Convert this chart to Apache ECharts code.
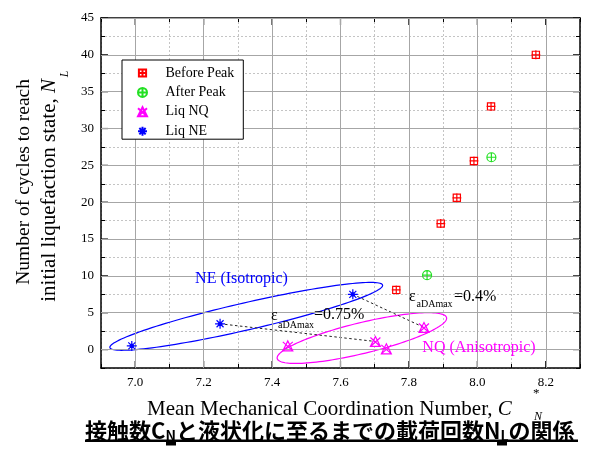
<!DOCTYPE html>
<html><head><meta charset="utf-8">
<script src="https://cdn.jsdelivr.net/npm/echarts@6/dist/echarts.min.js"></script>
<style>html,body{margin:0;padding:0;background:#fff}#c{width:592px;height:450px}</style>
</head><body><div id="c"></div>
<script>
// ---------------- data ----------------
const xMajorTicks = [7.0, 7.2, 7.4, 7.6, 7.8, 8.0, 8.2];
const yMajorTicks = [0, 5, 10, 15, 20, 25, 30, 35, 40, 45];
const beforePeak = [[7.763, 8.1], [7.893, 17.1], [7.94, 20.6], [7.99, 25.6], [8.04, 33.0], [8.171, 40.0]];
const afterPeak = [[7.853, 10.1], [8.041, 26.1]];
const liqNQ = [[7.446, 0.5], [7.702, 1.1], [7.734, 0.1], [7.844, 3.0]];
const liqNE = [[6.99, 0.5], [7.248, 3.5], [7.636, 7.5]];
const dashedLinks = [[1, 1], [2, 3]];               // [liqNE index, liqNQ index]
const neEllipseAxis = [[6.926, 0.27], [7.723, 8.75]]; // major-axis end points
const nqEllipseAxis = [[7.415, -1.22], [7.910, 4.34]];
const seriesNames = ['Before Peak', 'After Peak', 'Liq NQ', 'Liq NE'];

// ---------------- styles ----------------
const SERIF = '"Liberation Serif", "Times New Roman", serif';
const CJK = '"Noto Sans CJK JP", sans-serif';
const X_MIN = 6.9, X_MAX = 8.3, Y_MIN = -2.5, Y_MAX = 45;
const symBefore = 'path://M1,1 L9,1 L9,9 L1,9 Z M5,0 L5,10 M0,5 L10,5';
const symAfter = 'path://M0,5 A5,5 0 1 1 10,5 A5,5 0 1 1 0,5 Z M5,0 L5,10 M0,5 L10,5';
const symNQ = 'path://M5,0 L10,10 L0,10 Z M0,1 L10,10 M10,1 L0,10';
const symNE = 'path://M5,0 L5,10 M0,5 L10,5 M1.5,1.5 L8.5,8.5 M8.5,1.5 L1.5,8.5 M3.5,3.5 L6.5,3.5 L6.5,6.5 L3.5,6.5 Z';

function ellipseRender(minorHalf, color) {
  return function (params, api) {
    const p1 = api.coord([api.value(0), api.value(1)]);
    const p2 = api.coord([api.value(2), api.value(3)]);
    const cx = (p1[0] + p2[0]) / 2, cy = (p1[1] + p2[1]) / 2;
    const dx = p2[0] - p1[0], dy = p2[1] - p1[1];
    const a = Math.hypot(dx, dy) / 2;
    const ux = dx / (2 * a), uy = dy / (2 * a);
    const nx = -uy, ny = ux;
    const pts = [];
    for (let i = 0; i < 144; i++) {
      const t = i / 144 * 2 * Math.PI;
      pts.push([cx + a * Math.cos(t) * ux + minorHalf * Math.sin(t) * nx,
                cy + a * Math.cos(t) * uy + minorHalf * Math.sin(t) * ny]);
    }
    return { type: 'polygon', shape: { points: pts }, style: { fill: 'none', stroke: color, lineWidth: 1.2 } };
  };
}

function scatterSeries(name, data, symbol, color, size) {
  return {
    name: name, type: 'scatter', data: data, symbol: symbol, symbolSize: size, symbolKeepAspect: true,
    z: 6, itemStyle: { color: 'transparent', borderColor: color, borderWidth: 1.2, opacity: 1 }
  };
}

const axisLineStyle = { color: '#000', width: 1.5 };
const xAxisBase = {
  type: 'value', min: X_MIN, max: X_MAX, interval: 0.1,
  axisLine: { show: true, onZero: false, lineStyle: axisLineStyle },
  axisTick: { show: true, inside: true, length: 4, lineStyle: { color: '#000', width: 1 } }
};
const yAxisBase = {
  type: 'value', min: Y_MIN, max: Y_MAX, interval: 2.5,
  axisLine: { show: true, onZero: false, lineStyle: axisLineStyle },
  axisTick: { show: true, inside: true, length: 4, lineStyle: { color: '#000', width: 1 } }
};

const option = {
  animation: false,
  backgroundColor: '#fff',
  grid: { left: 101, top: 18, width: 479, height: 350, containLabel: false },
  xAxis: [
    Object.assign({}, xAxisBase, {
      position: 'bottom',
      axisLabel: {
        margin: 8, color: '#000', fontFamily: SERIF, fontSize: 13,
        formatter: v => (Math.round(v * 10) % 2 === 0 ? v.toFixed(1) : '')
      },
      splitLine: { show: true, lineStyle: { color: '#c4c4c4', type: [2, 2], width: 1 } }
    }),
    Object.assign({}, xAxisBase, { position: 'top', axisLabel: { show: false }, splitLine: { show: false } })
  ],
  yAxis: [
    Object.assign({}, yAxisBase, {
      position: 'left',
      axisLabel: {
        margin: 7, color: '#000', fontFamily: SERIF, fontSize: 13,
        formatter: v => (v >= 0 && Math.abs(v % 5) < 1e-9 ? String(v) : '')
      },
      splitLine: { show: true, lineStyle: { color: '#c4c4c4', type: [2, 2], width: 1 } }
    }),
    Object.assign({}, yAxisBase, { position: 'right', axisLabel: { show: false }, splitLine: { show: false } })
  ],
  legend: {
    orient: 'vertical', left: 122, top: 60, z: 50, zlevel: 1,
    data: seriesNames,
    padding: [6, 9, 1, 15], itemGap: 5.4, itemWidth: 36, itemHeight: 9,
    backgroundColor: '#fff', borderColor: '#000', borderWidth: 1, borderRadius: 0,
    textStyle: { color: '#000', fontFamily: SERIF, fontSize: 14, lineHeight: 14 }
  },
  series: [
    { type: 'line', data: [], silent: true, z: 1,
      markLine: { silent: true, symbol: ['none', 'none'], label: { show: false }, animation: false,
        lineStyle: { color: '#a6a6a6', type: 'solid', width: 1 },
        data: xMajorTicks.map(v => ({ xAxis: v })).concat(yMajorTicks.map(v => ({ yAxis: v }))) } },
    { type: 'custom', silent: true, z: 4, data: xMajorTicks.map(v => [v, 0]),
      renderItem: (params, api) => {
        const cs = params.coordSys; const px = api.coord([api.value(0), 0])[0];
        return { type: 'group', children: [
          { type: 'line', shape: { x1: px, y1: cs.y + cs.height, x2: px, y2: cs.y + cs.height - 7 }, style: { stroke: '#000', lineWidth: 1.2 } },
          { type: 'line', shape: { x1: px, y1: cs.y, x2: px, y2: cs.y + 7 }, style: { stroke: '#000', lineWidth: 1.2 } }] };
      } },
    { type: 'custom', silent: true, z: 4, data: yMajorTicks.map(v => [7.0, v]),
      renderItem: (params, api) => {
        const cs = params.coordSys; const py = api.coord([7.0, api.value(1)])[1];
        return { type: 'group', children: [
          { type: 'line', shape: { x1: cs.x, y1: py, x2: cs.x + 7, y2: py }, style: { stroke: '#000', lineWidth: 1.2 } },
          { type: 'line', shape: { x1: cs.x + cs.width, y1: py, x2: cs.x + cs.width - 7, y2: py }, style: { stroke: '#000', lineWidth: 1.2 } }] };
      } },
    { type: 'custom', silent: true, z: 3, data: [neEllipseAxis[0].concat(neEllipseAxis[1])], renderItem: ellipseRender(13.6, '#0000ff') },
    { type: 'custom', silent: true, z: 3, data: [nqEllipseAxis[0].concat(nqEllipseAxis[1])], renderItem: ellipseRender(15.4, '#ff00ff') }
  ].concat(dashedLinks.map(l => ({
    type: 'line', silent: true, z: 3, symbol: 'none', data: [liqNE[l[0]], liqNQ[l[1]]],
    lineStyle: { color: '#222', width: 1, type: [2.5, 2.5] }
  }))).concat([
    scatterSeries('Before Peak', beforePeak, symBefore, '#ff0000', 9),
    scatterSeries('After Peak', afterPeak, symAfter, '#22e022', 9),
    scatterSeries('Liq NQ', liqNQ, symNQ, '#ff00ff', 10),
    scatterSeries('Liq NE', liqNE, symNE, '#0000ff', 10)
  ]),
  graphic: [
    { type: 'text', x: 241.5, y: 279, z: 10, style: { text: 'NE (Isotropic)', font: '16px ' + SERIF, fill: '#0000ff', textAlign: 'center', textVerticalAlign: 'middle' } },
    { type: 'text', x: 479, y: 348, z: 10, style: { text: 'NQ (Anisotropic)', font: '16px ' + SERIF, fill: '#ff00ff', textAlign: 'center', textVerticalAlign: 'middle' } },
    { type: 'text', x: 271, y: 316, z: 10, style: { text: 'ε', font: '16px ' + SERIF, fill: '#000', textAlign: 'left', textVerticalAlign: 'middle' } },
    { type: 'text', x: 278, y: 325, z: 10, style: { text: 'aDAmax', font: '10px ' + SERIF, fill: '#000', textAlign: 'left', textVerticalAlign: 'middle' } },
    { type: 'text', x: 314, y: 315, z: 10, style: { text: '=0.75%', font: '16px ' + SERIF, fill: '#000', textAlign: 'left', textVerticalAlign: 'middle' } },
    { type: 'text', x: 409, y: 297, z: 10, style: { text: 'ε', font: '16px ' + SERIF, fill: '#000', textAlign: 'left', textVerticalAlign: 'middle' } },
    { type: 'text', x: 416.5, y: 304.5, z: 10, style: { text: 'aDAmax', font: '10px ' + SERIF, fill: '#000', textAlign: 'left', textVerticalAlign: 'middle' } },
    { type: 'text', x: 454, y: 297, z: 10, style: { text: '=0.4%', font: '16px ' + SERIF, fill: '#000', textAlign: 'left', textVerticalAlign: 'middle' } },
    // x axis title
    { type: 'text', x: 147, y: 409, style: { text: '{t|Mean Mechanical Coordination Number, }{c|C}',
        rich: { t: { fontFamily: SERIF, fontSize: 21, fill: '#000' }, c: { fontFamily: SERIF, fontSize: 21, fontStyle: 'italic', fill: '#000' } },
        textAlign: 'left', textVerticalAlign: 'middle' } },
    { type: 'text', x: 533, y: 394, style: { text: '*', font: '13px ' + SERIF, fill: '#000', textAlign: 'left', textVerticalAlign: 'middle' } },
    { type: 'text', x: 534, y: 417, style: { text: 'N', font: 'italic 12px ' + SERIF, fill: '#000', textAlign: 'left', textVerticalAlign: 'middle' } },
    // y axis title
    { type: 'text', x: 24, y: 79, rotation: Math.PI / 2, style: { text: 'Number of cycles to reach', font: '19.5px ' + SERIF, fill: '#000', textAlign: 'right', textVerticalAlign: 'middle' } },
    { type: 'text', x: 49, y: 79, rotation: Math.PI / 2, style: { text: '{t|initial liquefaction state, }{n|N}',
        rich: { t: { fontFamily: SERIF, fontSize: 21, fill: '#000' }, n: { fontFamily: SERIF, fontSize: 21, fontStyle: 'italic', fill: '#000' } },
        textAlign: 'right', textVerticalAlign: 'middle' } },
    { type: 'text', x: 65, y: 74, rotation: Math.PI / 2, style: { text: 'L', font: 'italic 12px ' + SERIF, fill: '#000', textAlign: 'center', textVerticalAlign: 'middle' } },
    // Japanese caption
    { type: 'text', x: 85, y: 431, style: { text: '{a|接触数C}{s|N}{a|と液状化に至るまでの載荷回数N}{s|L}{a|の関係}',
        rich: { a: { fontFamily: CJK, fontSize: 22, fontWeight: 'bold', fill: '#000', lineHeight: 24 },
                s: { fontFamily: CJK, fontSize: 14, fontWeight: 'bold', fill: '#000', verticalAlign: 'bottom', lineHeight: 14, padding: [15, 0, 0, 0] } },
        textAlign: 'left', textVerticalAlign: 'middle' } },
    { type: 'rect', shape: { x: 85, y: 439.5, width: 493, height: 2.5 }, style: { fill: '#000' } },
    { type: 'rect', shape: { x: 166, y: 441.5, width: 10, height: 4 }, style: { fill: '#000' } },
    { type: 'rect', shape: { x: 497, y: 441.5, width: 10, height: 4 }, style: { fill: '#000' } }
  ]
};
const chart = echarts.init(document.getElementById('c'), null, { renderer: 'canvas' });
chart.setOption(option);
</script></body></html>
